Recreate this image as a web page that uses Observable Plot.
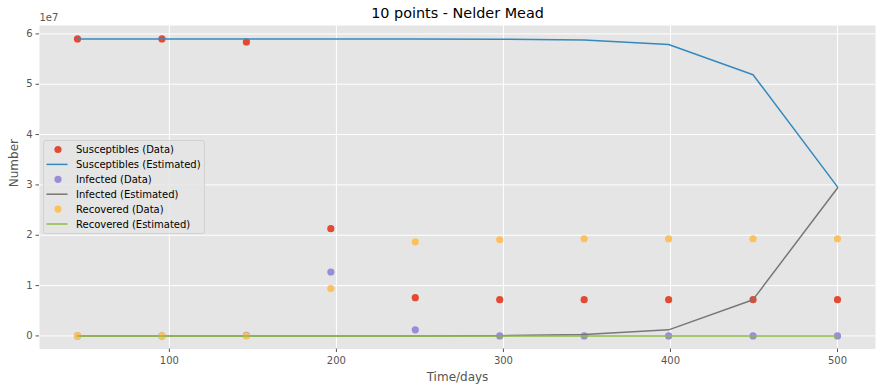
<!DOCTYPE html>
<html>
<head>
<meta charset="utf-8">
<script src="https://cdn.jsdelivr.net/npm/d3@7"></script>
<script src="https://cdn.jsdelivr.net/npm/@observablehq/plot@0.6"></script>
<style>
  html, body { margin: 0; padding: 0; background: #fff; }
  #wrap { position: relative; width: 881px; height: 391px; font-family: "DejaVu Sans", sans-serif; }
  #legend { position: absolute; left: 42.5px; top: 139.5px; }
</style>
</head>
<body>
<div id="wrap"><div id="chart"></div><svg id="legend" width="162" height="95"></svg></div>
<script>
const title = "10 points - Nelder Mead";
const xLabel = "Time/days";
const yLabel = "Number";
const offsetLabel = "1e7";

const t = [45, 95.56, 146.11, 196.67, 247.22, 297.78, 348.33, 398.89, 449.44, 500];
const susceptiblesData = [5.90e7, 5.90e7, 5.84e7, 2.13e7, 0.76e7, 0.72e7, 0.72e7, 0.72e7, 0.72e7, 0.72e7];
const infectedData     = [0.0, 0.0, 0.01e7, 1.27e7, 0.12e7, 0.0, 0.0, 0.0, 0.0, 0.0];
const recoveredData    = [0.0, 0.0, 0.0, 0.94e7, 1.87e7, 1.91e7, 1.93e7, 1.93e7, 1.93e7, 1.93e7];
const susceptiblesEst  = [5.90e7, 5.90e7, 5.90e7, 5.90e7, 5.90e7, 5.895e7, 5.88e7, 5.79e7, 5.19e7, 2.96e7];
const infectedEst      = [0.0, 0.0, 0.0, 0.0, 0.0, 0.005e7, 0.03e7, 0.12e7, 0.72e7, 2.94e7];
const recoveredEst     = [0, 0, 0, 0, 0, 0, 0, 0, 0, 0];

const xTicks = [100, 200, 300, 400, 500];
const yTicks = [0, 1e7, 2e7, 3e7, 4e7, 5e7, 6e7];

const colors = {
  sData: "#E24A33", sEst: "#348ABD",
  iData: "#988ED5", iEst: "#777777",
  rData: "#FBC15E", rEst: "#8EBA42"
};

const series = [
  {name: "Susceptibles (Data)", kind: "dot", vals: susceptiblesData, color: colors.sData},
  {name: "Susceptibles (Estimated)", kind: "line", vals: susceptiblesEst, color: colors.sEst},
  {name: "Infected (Data)", kind: "dot", vals: infectedData, color: colors.iData},
  {name: "Infected (Estimated)", kind: "line", vals: infectedEst, color: colors.iEst},
  {name: "Recovered (Data)", kind: "dot", vals: recoveredData, color: colors.rData},
  {name: "Recovered (Estimated)", kind: "line", vals: recoveredEst, color: colors.rEst}
];

const marks = [
  Plot.frame({fill: "#E5E5E5", stroke: null}),
  Plot.gridX(xTicks, {stroke: "#fff", strokeOpacity: 1, strokeWidth: 1}),
  Plot.gridY(yTicks, {stroke: "#fff", strokeOpacity: 1, strokeWidth: 1}),
  Plot.axisX(xTicks, {tickSize: 3.5, tickPadding: 4.5, fontSize: 10, color: "#555555", label: null}),
  Plot.axisY(yTicks, {tickSize: 3.5, tickPadding: 3.5, fontSize: 10, color: "#555555", label: null, tickFormat: d => String(d / 1e7)})
];
for (const s of series) {
  const data = t.map((x, i) => ({x, y: s.vals[i]}));
  if (s.kind === "dot") marks.push(Plot.dot(data, {x: "x", y: "y", r: 3.6, fill: s.color, stroke: null}));
  else marks.push(Plot.line(data, {x: "x", y: "y", stroke: s.color, strokeWidth: 1.5}));
}
marks.push(
  Plot.text([title], {frameAnchor: "top", lineAnchor: "middle", dy: -12.5, fontSize: 14.4, fill: "#000", text: d => d}),
  Plot.text([offsetLabel], {frameAnchor: "top-left", lineAnchor: "middle", dy: -8, dx: 0, textAnchor: "start", fontSize: 10, fill: "#555555", text: d => d}),
  Plot.text([xLabel], {frameAnchor: "bottom", lineAnchor: "middle", dy: 28.5, fontSize: 12, fill: "#555555", text: d => d}),
  Plot.text([yLabel], {frameAnchor: "left", lineAnchor: "middle", dx: -25.5, rotate: -90, fontSize: 12, fill: "#555555", text: d => d})
);

const chart = Plot.plot({
  width: 881,
  height: 391,
  marginLeft: 39,
  marginRight: 6,
  marginTop: 25,
  marginBottom: 42.5,
  style: {fontFamily: "DejaVu Sans, sans-serif", background: "#fff", overflow: "visible"},
  x: {domain: [22.25, 522.75]},
  y: {domain: [-0.26e7, 6.167e7]},
  marks
});
document.getElementById("chart").appendChild(chart);

// legend
const lg = d3.select("#legend");
lg.append("rect").attr("x", 0.5).attr("y", 0.5).attr("width", 161).attr("height", 93)
  .attr("rx", 2.5).attr("fill", "#E5E5E5").attr("fill-opacity", 0.8)
  .attr("stroke", "#cccccc").attr("stroke-opacity", 0.8);
series.forEach((s, i) => {
  const cy = 9.5 + i * 14.9;
  if (s.kind === "dot") lg.append("circle").attr("cx", 15).attr("cy", cy).attr("r", 3.6).attr("fill", s.color);
  else lg.append("line").attr("x1", 3.5).attr("x2", 24.5).attr("y1", cy).attr("y2", cy).attr("stroke", s.color).attr("stroke-width", 1.5);
  lg.append("text").attr("x", 33).attr("y", cy).attr("dy", "0.35em")
    .attr("font-size", 10).attr("fill", "#000").attr("font-family", "DejaVu Sans, sans-serif").text(s.name);
});
</script>
</body>
</html>
